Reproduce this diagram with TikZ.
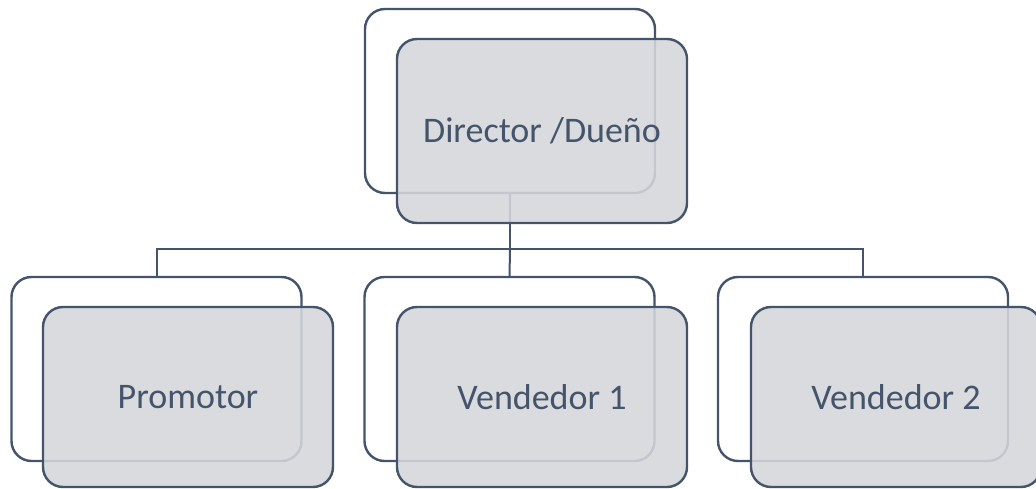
\documentclass[tikz,border=0pt]{standalone}
\usepackage{fontspec}
\setmainfont{Carlito}
\definecolor{slate}{HTML}{44546A}
\definecolor{boxfill}{HTML}{D5D7DB}
\begin{document}
\begin{tikzpicture}[x=1pt,y=1pt,
  backbox/.style={draw=slate, line width=2.4pt, fill=white, rounded corners=20pt,
    minimum width=290pt, minimum height=184pt, inner sep=0pt, outer sep=0pt},
  frontbox/.style={draw=slate, line width=2.4pt, fill=boxfill, fill opacity=0.88, text opacity=1,
    rounded corners=20pt, minimum width=290pt, minimum height=184pt, inner sep=0pt, outer sep=0pt,
    text=slate, font=\fontsize{36}{40}\selectfont},
  link/.style={draw=slate, line width=2pt}]
\useasboundingbox (0,0) rectangle (1036,-489);
\fill[white] (0,0) rectangle (1036,-489);
% back boxes
\node[backbox] (tb) at (510,-101) {};
\node[backbox] (pb) at (156.5,-369) {};
\node[backbox] (v1b) at (509.5,-369) {};
\node[backbox] (v2b) at (863,-369) {};
% connectors
\coordinate (bus) at (0,-249);
\draw[link] (tb.south) -- (tb.south |- bus) -| (pb.north);
\draw[link] (tb.south |- bus) -| (v2b.north);
\draw[link] (tb.south |- bus) -- (v1b.north);
% front boxes
\node[frontbox] (tf) at (542,-131) {Director /Dueño};
\node[frontbox, minimum height=180pt] (pf) at (188,-397) {Promotor};
\node[frontbox, minimum height=180pt] (v1f) at (542,-397) {Vendedor 1};
\node[frontbox, minimum height=180pt] (v2f) at (896,-397) {Vendedor 2};
\end{tikzpicture}
\end{document}
